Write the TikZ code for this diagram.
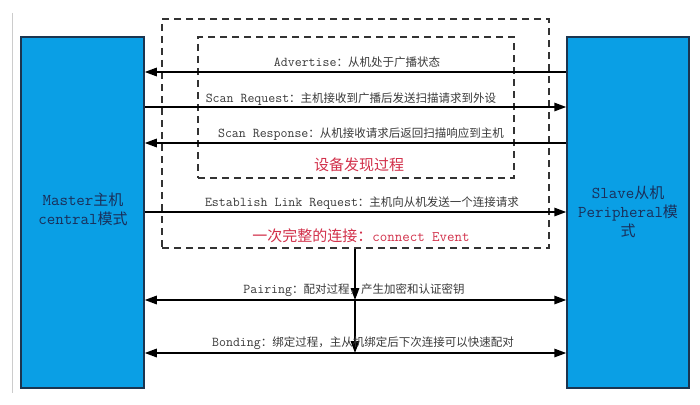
\documentclass[tikz,border=0pt]{standalone}
\usepackage{fontspec}
\newfontfamily\cjkf{Noto Sans CJK SC}
\usetikzlibrary{arrows.meta}
\newcommand\zhs[1]{{\cjkf\fontsize{11.5}{13}\selectfont #1}}
\newcommand\zhb[1]{{\cjkf\fontsize{15}{18}\selectfont #1}}
\definecolor{boxblue}{HTML}{0A9FE5}
\definecolor{boxedge}{HTML}{1B3550}
\definecolor{boxtext}{HTML}{1A2F5A}
\definecolor{lbl}{HTML}{3A3A3A}
\definecolor{redlbl}{HTML}{D2304A}
\tikzset{
  x=1pt, y=-1pt,
  device/.style={draw=boxedge, line width=1.5pt, fill=boxblue},
  devtext/.style={text=boxtext, font=\ttfamily\fontsize{16.5}{19}\selectfont, align=center},
  dbox/.style={draw=black!80, dashed, dash pattern=on 7pt off 5pt, line width=1.1pt},
  msg/.style={line width=1.5pt, -{Triangle[length=12pt,width=8.5pt]}},
  dmsg/.style={line width=1.5pt, {Triangle[length=12pt,width=8.5pt]}-{Triangle[length=12pt,width=8.5pt]}},
  msglbl/.style={text=lbl, font=\ttfamily\fontsize{13.5}{15}\selectfont, inner sep=0pt},
  redtxt/.style={text=redlbl, font=\ttfamily\fontsize{14.5}{17}\selectfont, inner sep=0pt},
}
\begin{document}
\begin{tikzpicture}
\useasboundingbox[fill=white] (0,0) rectangle (700,404);
\draw[black!20, line width=0.8pt] (12.7,13) coordinate (lt) -- (12.7,393) coordinate (lb);
% devices
\node[device, minimum width=123pt, minimum height=351pt, inner sep=0pt] (master) at (82.5,212.5) {};
\node[device, minimum width=122pt, minimum height=351pt, inner sep=0pt] (slave) at (628,212.5) {};
\node[devtext] (mtext) at (83,209) {Master\zhb{主机}\\central\zhb{模式}};
\node[devtext] (stext) at (628,212) {Slave\zhb{从机}\\Peripheral\zhb{模}\\\zhb{式}};
% dashed boxes
\node[dbox, minimum width=387pt, minimum height=229pt, inner sep=0pt] (outer) at (355.5,133.5) {};
\node[dbox, minimum width=316pt, minimum height=141pt, inner sep=0pt] (inner) at (356,107.5) {};
% messages
\draw[msg] (slave.west |- 0,72) coordinate (a1) -- (master.east |- 0,72) coordinate (a2);
\draw[msg] (master.east |- 0,107) coordinate (b1) -- (slave.west |- 0,107) coordinate (b2);
\draw[msg] (slave.west |- 0,143) coordinate (c1) -- (master.east |- 0,143) coordinate (c2);
\draw[msg] (master.east |- 0,212) coordinate (d1) -- (slave.west |- 0,212) coordinate (d2);
\draw[dmsg] (master.east |- 0,300) coordinate (e1) -- (slave.west |- 0,300) coordinate (e2);
\draw[dmsg] (master.east |- 0,353) coordinate (f1) -- (slave.west |- 0,353) coordinate (f2);
\coordinate (v0) at (outer.south -| 355,0);
\coordinate (v1) at (355,300);
\coordinate (v2) at (355,353);
\draw[msg] (v0) -- (v1);
\draw[msg] (v1) -- (v2);
% labels
\node[msglbl] (la) at (357,62) {Advertise\zhs{：从机处于广播状态}};
\node[msglbl] (lb) at (351,99) {Scan Request\zhs{：主机接收到广播后发送扫描请求到外设}};
\node[msglbl] (lc) at (361,134) {Scan Response\zhs{：从机接收请求后返回扫描响应到主机}};
\node[redtxt] (ld) at (359,165) {\zhb{设备发现过程}};
\node[msglbl] (le) at (362,203) {Establish Link Request\zhs{：主机向从机发送一个连接请求}};
\node[redtxt] (lf) at (361,236) {\zhb{一次完整的连接：}connect Event};
\node[msglbl] (lg) at (354,290) {Pairing\zhs{：配对过程，产生加密和认证密钥}};
\node[msglbl] (lh) at (363,343) {Bonding\zhs{：绑定过程，主从机绑定后下次连接可以快速配对}};
\end{tikzpicture}
\end{document}
